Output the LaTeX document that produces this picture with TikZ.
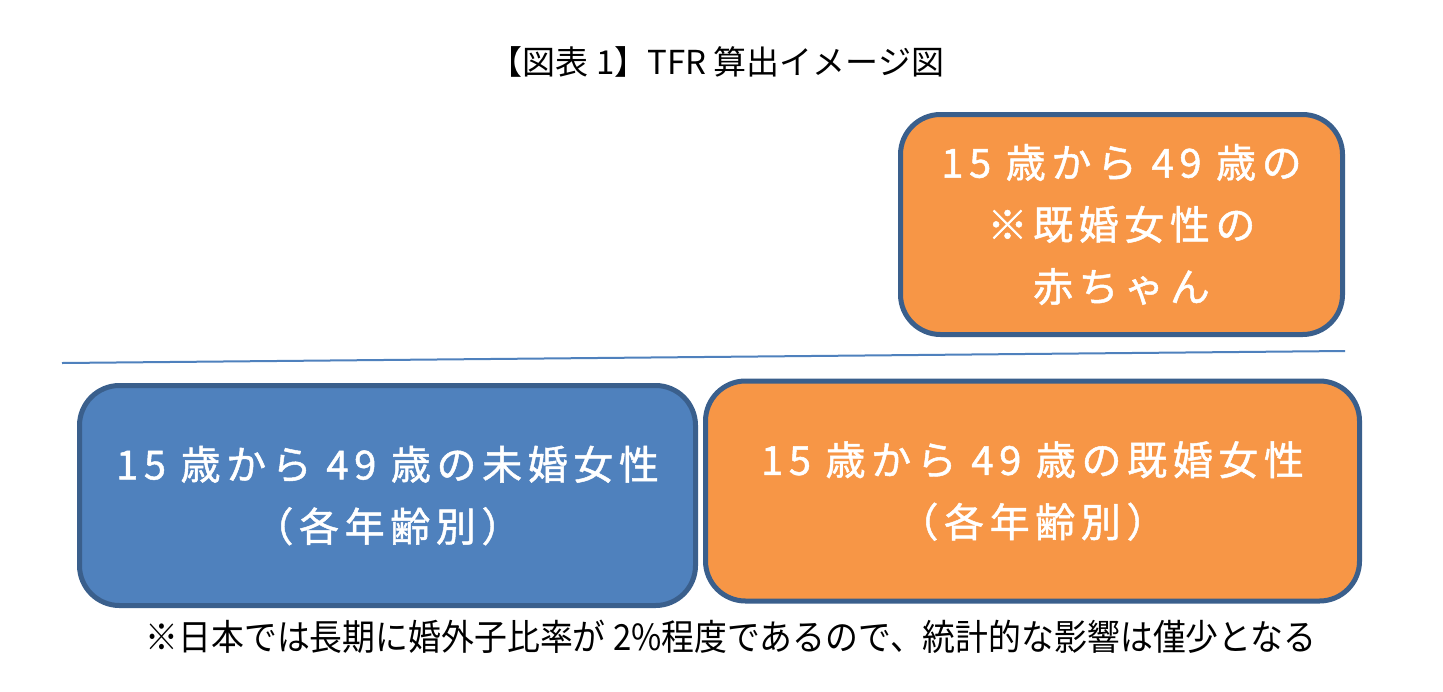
\documentclass[tikz,border=0pt]{standalone}
\usepackage{fontspec}
\newfontfamily\jp{Noto Sans CJK JP}
\newfontfamily\jpsp[LetterSpace=14,FakeBold=1.2]{Noto Sans CJK JP}
\definecolor{boxorange}{HTML}{F79646}
\definecolor{boxblue}{HTML}{4F81BD}
\definecolor{boxedge}{HTML}{3A5F8C}
\definecolor{rulecol}{HTML}{4F81BD}
\tikzset{
  card/.style={draw=boxedge, line width=2.5pt, rounded corners=20pt, inner sep=0pt,
    text=white, align=center, font=\jpsp\fontsize{20pt}{31pt}\selectfont},
  orangecard/.style={card, fill=boxorange},
  bluecard/.style={card, fill=boxblue},
}
\begin{document}
\begin{tikzpicture}[x=0.5pt,y=-0.5pt]
\useasboundingbox (0,0) rectangle (1443,691);
\fill[white] (0,0) rectangle (1443,691);
\node[font=\jp\fontsize{16.5pt}{18pt}\selectfont] (title) at (717,62) {【図表 1】TFR 算出イメージ図};
\node[orangecard, minimum width=221pt, minimum height=110pt] (baby) at (1121.5,224.5)
  {15 歳から 49 歳の\\※既婚女性の\\赤ちゃん};
\coordinate (rl) at (62,363);
\coordinate (rr) at (1345,351);
\draw[rulecol, line width=1pt] (rl) -- (rr);
\node[bluecard, minimum width=308pt, minimum height=110pt] (unmarried) at (387.5,495.5)
  {15 歳から 49 歳の未婚女性\\（各年齢別）};
\node[orangecard, minimum width=327pt, minimum height=110pt] (married) at (1032.5,491)
  {15 歳から 49 歳の既婚女性\\（各年齢別）};
\node[font=\jp\fontsize{18pt}{19pt}\selectfont, xscale=0.913] (note) at (731,637)
  {※日本では長期に婚外子比率が 2\%程度であるので、統計的な影響は僅少となる};
\end{tikzpicture}
\end{document}
